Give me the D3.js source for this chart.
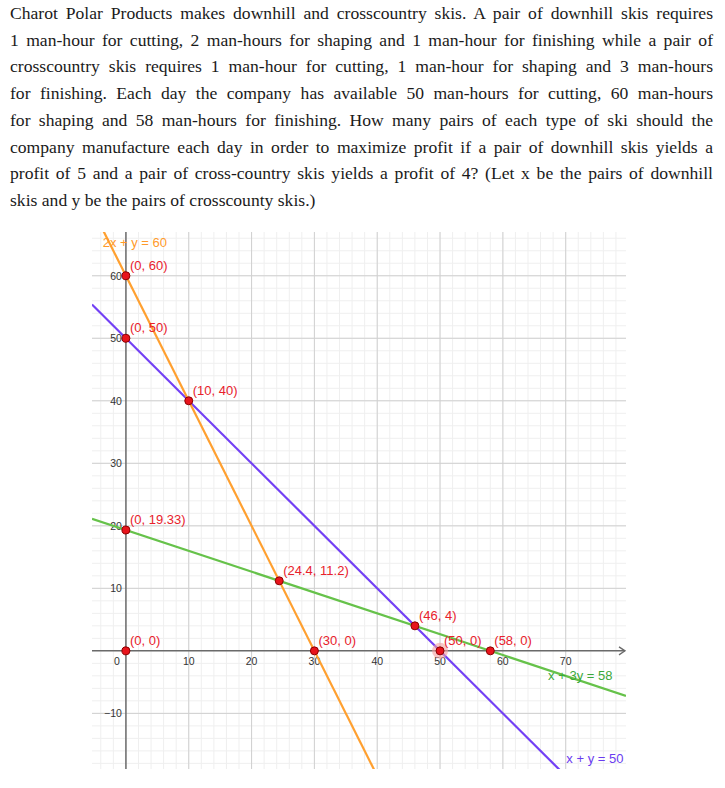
<!DOCTYPE html>
<html>
<head>
<meta charset="utf-8">
<script src="https://cdn.jsdelivr.net/npm/d3@7"></script>
<style>
  html, body { margin: 0; padding: 0; background: #fff; }
  #wrap { position: relative; width: 725px; height: 788px; overflow: hidden; }
  #problem { position: absolute; left: 10px; top: 0px; width: 703px;
    font-family: 'Liberation Serif', 'DejaVu Serif', serif; font-size: 17.6px;
    line-height: 26.7px; color: #1a1a1a; }
  #problem div { text-align: justify; text-align-last: justify; white-space: nowrap; }
  #problem div.last { text-align-last: left; }
  svg { position: absolute; left: 0; top: 0; }
</style>
</head>
<body>
<div id="wrap">
  <div id="problem"></div>
  <svg id="chart" width="725" height="788"></svg>
</div>
<script>
// ---------- data ----------
const problemLines = [
  "Charot Polar Products makes downhill and crosscountry skis.  A pair of downhill skis requires",
  "1 man-hour for cutting, 2 man-hours for shaping and 1 man-hour for finishing while a pair of",
  "crosscountry skis requires 1 man-hour for cutting, 1 man-hour for shaping and 3 man-hours",
  "for finishing.  Each day the company has available 50 man-hours for cutting, 60 man-hours",
  "for shaping and 58 man-hours for finishing.  How many pairs of each type of ski should the",
  "company manufacture each day in order to maximize profit if a pair of downhill skis yields a",
  "profit of 5 and a pair of cross-country skis yields a profit of 4?  (Let x be the pairs of downhill",
  "skis and y be the pairs of crosscounty skis.)"
];
const constraintNames = ["x + y = 50", "2x + y = 60", "x + 3y = 58"];
const coefA = [1, 2, 1];
const coefB = [1, 1, 3];
const coefC = [50, 60, 58];
const pointX = [0, 0, 10, 0, 24.4, 46, 0, 30, 50, 58];
const pointY = [60, 50, 40, 19.33, 11.2, 4, 0, 0, 0, 0];
const pointLabels = ["(0, 60)", "(0, 50)", "(10, 40)", "(0, 19.33)", "(24.4, 11.2)", "(46, 4)", "(0, 0)", "(30, 0)", "(50, 0)", "(58, 0)"];
const xTicks = [10, 20, 30, 40, 50, 60, 70];
const yTicks = [-10, 10, 20, 30, 40, 50, 60];

// ---------- styles / layout ----------
const lineColors = ["#7340f5", "#ffa030", "#66c24a"];
const labelColors = ["#6a3cf0", "#ff9a2a", "#3aa83a"];
const labelAnchors = [[70.1, -17.9], [-3.7, 64.6], [67.2, -4.6]]; // data coords of equation labels
const highlighted = 8; // (50, 0) selected point

// problem text
d3.select("#problem").selectAll("div").data(problemLines).join("div")
  .attr("class", (d, i) => i === problemLines.length - 1 ? "last" : null)
  .text(d => d);

const svg = d3.select("#chart");
const pLeft = 92, pRight = 626, pTop = 232, pBottom = 769;
const x = d3.scaleLinear().domain([-5.4, 79.6]).range([pLeft, pRight]);
const y = d3.scaleLinear().domain([-18.9, 67]).range([pBottom, pTop]);

// grid
const minorX = d3.range(-4, 80, 2), minorY = d3.range(-18, 67, 2);
const g = svg.append("g");
g.selectAll(".mx").data(minorX).join("line")
  .attr("x1", d => x(d)).attr("x2", d => x(d)).attr("y1", pTop).attr("y2", pBottom)
  .attr("stroke", "#efefef").attr("stroke-width", 1);
g.selectAll(".my").data(minorY).join("line")
  .attr("y1", d => y(d)).attr("y2", d => y(d)).attr("x1", pLeft).attr("x2", pRight)
  .attr("stroke", "#efefef").attr("stroke-width", 1);
g.selectAll(".Mx").data(xTicks).join("line")
  .attr("x1", d => x(d)).attr("x2", d => x(d)).attr("y1", pTop).attr("y2", pBottom)
  .attr("stroke", "#d0d0d0").attr("stroke-width", 1);
g.selectAll(".My").data(yTicks).join("line")
  .attr("y1", d => y(d)).attr("y2", d => y(d)).attr("x1", pLeft).attr("x2", pRight)
  .attr("stroke", "#d0d0d0").attr("stroke-width", 1);

// axes
const axisColor = "#6a6a6a";
svg.append("line").attr("x1", pLeft).attr("x2", pRight - 1).attr("y1", y(0)).attr("y2", y(0))
  .attr("stroke", axisColor).attr("stroke-width", 1.5);
svg.append("path").attr("d", `M${pRight - 7},${y(0) - 4}L${pRight - 1},${y(0)}L${pRight - 7},${y(0) + 4}`)
  .attr("fill", "none").attr("stroke", axisColor).attr("stroke-width", 1.3);
svg.append("line").attr("x1", x(0)).attr("x2", x(0)).attr("y1", pTop).attr("y2", pBottom)
  .attr("stroke", axisColor).attr("stroke-width", 1.5);

// tick labels
const tickFont = "Liberation Sans, Arial, sans-serif";
svg.append("g").selectAll("text").data(xTicks).join("text")
  .attr("x", d => x(d)).attr("y", y(0) + 14.5).attr("text-anchor", "middle")
  .attr("font-family", tickFont).attr("font-size", 10.5).attr("fill", "#333").text(d => d);
svg.append("text").attr("x", x(0) - 9).attr("y", y(0) + 14.5).attr("text-anchor", "middle")
  .attr("font-family", tickFont).attr("font-size", 10.5).attr("fill", "#333").text("0");
svg.append("g").selectAll("text").data(yTicks).join("text")
  .attr("x", x(0) - 4).attr("y", d => y(d) + 3.8).attr("text-anchor", "end")
  .attr("font-family", tickFont).attr("font-size", 10.5).attr("fill", "#333")
  .text(d => d < 0 ? "\u2212" + Math.abs(d) : d);

// constraint lines
svg.append("clipPath").attr("id", "plotclip").append("rect")
  .attr("x", pLeft).attr("y", pTop).attr("width", pRight - pLeft).attr("height", pBottom - pTop);
const lg = svg.append("g").attr("clip-path", "url(#plotclip)");
const xd = x.domain();
constraintNames.forEach((name, i) => {
  const yAt = xv => (coefC[i] - coefA[i] * xv) / coefB[i];
  lg.append("line")
    .attr("x1", x(xd[0])).attr("y1", y(yAt(xd[0])))
    .attr("x2", x(xd[1])).attr("y2", y(yAt(xd[1])))
    .attr("stroke", lineColors[i]).attr("stroke-width", 2.2);
  svg.append("text").attr("x", x(labelAnchors[i][0])).attr("y", y(labelAnchors[i][1]))
    .attr("font-family", tickFont).attr("font-size", 13).attr("fill", labelColors[i]).text(name);
});

// points
const pts = pointX.map((px, i) => ({ x: px, y: pointY[i], label: pointLabels[i], i }));
svg.append("circle").attr("cx", x(pointX[highlighted])).attr("cy", y(pointY[highlighted]))
  .attr("r", 8).attr("fill", "#f4a0a0").attr("opacity", 0.6);
svg.append("g").selectAll("circle").data(pts).join("circle")
  .attr("cx", d => x(d.x)).attr("cy", d => y(d.y)).attr("r", 4)
  .attr("fill", "#e8141c").attr("stroke", "#8a0000").attr("stroke-width", 1);
svg.append("g").selectAll("text").data(pts).join("text")
  .attr("x", d => x(d.x) + 4).attr("y", d => y(d.y) - 6)
  .attr("font-family", tickFont).attr("font-size", 13).attr("fill", "#e8212b")
  .text(d => d.label);
</script>
</body>
</html>
